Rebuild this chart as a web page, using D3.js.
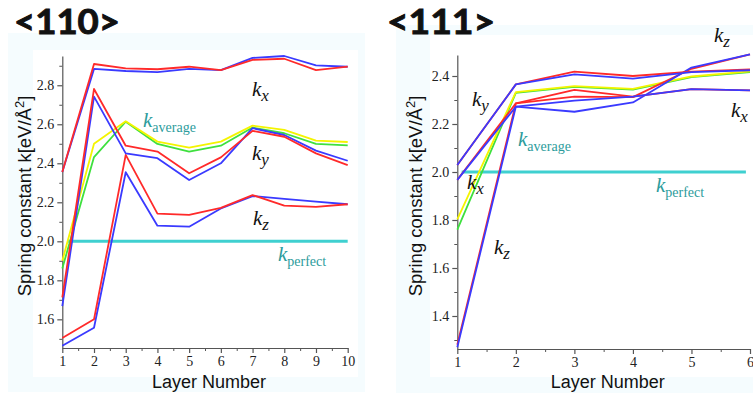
<!DOCTYPE html>
<html>
<head>
<meta charset="utf-8">
<script src="https://cdn.jsdelivr.net/npm/d3@7"></script>
<style>
  html, body { margin: 0; padding: 0; background: #ffffff; }
  svg { display: block; }
</style>
</head>
<body>
<svg id="chart" width="753" height="396"></svg>
<script>
// ---- <110> surface: spring constants per layer ----
const layers110 = [1, 2, 3, 4, 5, 6, 7, 8, 9, 10];
const kx110Red   = [2.355, 2.909, 2.887, 2.882, 2.895, 2.878, 2.930, 2.936, 2.878, 2.895];
const kx110Blue  = [2.355, 2.884, 2.873, 2.867, 2.884, 2.878, 2.940, 2.950, 2.902, 2.895];
const ky110Red   = [1.713, 2.781, 2.490, 2.460, 2.349, 2.430, 2.566, 2.536, 2.451, 2.391];
const ky110Blue  = [1.668, 2.742, 2.451, 2.426, 2.314, 2.400, 2.580, 2.545, 2.465, 2.413];
const kz110Red   = [1.504, 1.600, 2.443, 2.142, 2.135, 2.171, 2.237, 2.183, 2.177, 2.190];
const kz110Blue  = [1.465, 1.557, 2.354, 2.080, 2.075, 2.168, 2.232, 2.217, 2.203, 2.190];
const kAvg110Yellow = [1.900, 2.500, 2.615, 2.511, 2.480, 2.511, 2.593, 2.571, 2.516, 2.509];
const kAvg110Green  = [1.861, 2.432, 2.613, 2.499, 2.460, 2.490, 2.583, 2.554, 2.500, 2.492];
const perfect110Layers = [1.18, 10];
const perfect110Values = [2.0, 2.0];
const yTicks110 = [1.6, 1.8, 2.0, 2.2, 2.4, 2.6, 2.8];
const yMinor110 = [1.5, 1.7, 1.9, 2.1, 2.3, 2.5, 2.7, 2.9];
const xTicks110 = [1, 2, 3, 4, 5, 6, 7, 8, 9, 10];
const xMinor110 = [1.5, 2.5, 3.5, 4.5, 5.5, 6.5, 7.5, 8.5, 9.5];

// ---- <111> surface ----
const layers111 = [1, 2, 3, 4, 5, 6];
const kx111Red   = [1.967, 2.286, 2.342, 2.314, 2.345, 2.340];
const kx111Blue  = [1.967, 2.272, 2.297, 2.314, 2.345, 2.340];
const ky111Red   = [2.029, 2.365, 2.418, 2.400, 2.418, 2.428];
const ky111Blue  = [2.029, 2.365, 2.407, 2.389, 2.416, 2.424];
const kz111Red   = [1.280, 2.286, 2.314, 2.312, 2.430, 2.490];
const kz111Blue  = [1.270, 2.272, 2.251, 2.290, 2.435, 2.490];
const kAvg111Yellow = [1.803, 2.333, 2.358, 2.346, 2.398, 2.419];
const kAvg111Green  = [1.760, 2.330, 2.355, 2.343, 2.395, 2.416];
const perfect111Layers = [1.075, 5.93];
const perfect111Values = [2.0, 2.0];
const yTicks111 = [1.4, 1.6, 1.8, 2.0, 2.2, 2.4];
const yMinor111 = [1.3, 1.5, 1.7, 1.9, 2.1, 2.3];
const xTicks111 = [1, 2, 3, 4, 5, 6];
const xMinor111 = [1.5, 2.5, 3.5, 4.5, 5.5];

const RED = "#ff2a2a", BLUE = "#3a3aff", YELLOW = "#f4f400", GREEN = "#3ee03e", CYAN = "#3fd0d0";
const TEAL = "#2c9c9c";

const svg = d3.select("#chart");

function drawPanel(cfg) {
  const g = svg.append("g");

  // pale panel backdrop
  g.append("rect").attr("x", cfg.bg[0]).attr("y", cfg.bg[1])
    .attr("width", cfg.bg[2]).attr("height", cfg.bg[3]).attr("fill", "#f5fcfe");
  g.append("rect").attr("x", cfg.inner[0]).attr("y", cfg.inner[1])
    .attr("width", cfg.inner[2]).attr("height", cfg.inner[3]).attr("fill", "#ffffff");

  // heading
  g.append("text").attr("x", cfg.title.x).attr("y", cfg.title.y)
    .attr("font-family", "Lato, 'DejaVu Sans', sans-serif").attr("font-weight", 700)
    .attr("font-size", 34).attr("fill", "#111").attr("stroke", "#111").attr("stroke-width", 0.9)
    .attr("textLength", cfg.title.len).attr("lengthAdjust", "spacingAndGlyphs")
    .text(cfg.title.text);

  const x = d3.scaleLinear().domain(cfg.xDomain).range(cfg.xRange);
  const y = d3.scaleLinear().domain(cfg.yDomain).range(cfg.yRange);
  const x0 = cfg.xRange[0], yBase = cfg.yRange[0];

  // minor ticks
  g.append("g").attr("transform", `translate(${x0},0)`)
    .call(d3.axisLeft(y).tickValues(cfg.yMinor).tickSize(3).tickFormat(""))
    .call(a => a.select(".domain").remove());
  g.append("g").attr("transform", `translate(0,${yBase})`)
    .call(d3.axisBottom(x).tickValues(cfg.xMinor).tickSize(3).tickFormat(""))
    .call(a => a.select(".domain").remove());

  // major axes
  const yAx = g.append("g").attr("transform", `translate(${x0},0)`)
    .call(d3.axisLeft(y).tickValues(cfg.yTicks).tickSize(5).tickSizeOuter(0).tickPadding(3)
      .tickFormat(d3.format(".1f")));
  const xAx = g.append("g").attr("transform", `translate(0,${yBase})`)
    .call(d3.axisBottom(x).tickValues(cfg.xTicks).tickSize(5).tickSizeOuter(0).tickPadding(3)
      .tickFormat(d3.format("d")));
  [yAx, xAx].forEach(a => {
    a.selectAll("path, line").attr("stroke", "#555").attr("stroke-width", 1.2);
    a.selectAll("text").attr("font-family", "'Liberation Serif', 'DejaVu Serif', serif")
      .attr("font-size", 14).attr("fill", "#222");
  });
  g.selectAll("line").attr("stroke", "#555");

  // axis titles
  g.append("text").attr("x", (cfg.xRange[0] + cfg.xRange[1]) / 2 + 4).attr("y", 388)
    .attr("text-anchor", "middle").attr("font-family", "'Liberation Sans', Arial, sans-serif")
    .attr("font-size", 18).attr("fill", "#111").text("Layer Number");
  const yt = g.append("text")
    .attr("transform", `translate(${cfg.yLabelX},196) rotate(-90)`)
    .attr("text-anchor", "middle").attr("font-family", "'Liberation Sans', Arial, sans-serif")
    .attr("font-size", 18.5).attr("fill", "#111");
  yt.append("tspan").text("Spring constant k[eV/Å");
  yt.append("tspan").attr("font-size", 13).attr("dy", -7).text("2");
  yt.append("tspan").attr("dy", 7).text("]");

  // reference level
  const perfectLine = d3.line().x(d => x(d[0])).y(d => y(d[1]));
  g.append("path")
    .attr("d", perfectLine(d3.zip(cfg.perfect[0], cfg.perfect[1])))
    .attr("fill", "none").attr("stroke", CYAN).attr("stroke-width", 3);

  // series
  const line = d3.line().x((d, i) => x(cfg.layers[i])).y(d => y(d));
  cfg.series.forEach(s => {
    g.append("path").attr("d", line(s.values))
      .attr("fill", "none").attr("stroke", s.color).attr("stroke-width", 1.8)
      .attr("stroke-linejoin", "round");
  });

  // in-plot labels
  cfg.labels.forEach(l => {
    const t = g.append("text").attr("x", l.x).attr("y", l.y)
      .attr("font-family", "'Liberation Serif', 'DejaVu Serif', serif")
      .attr("fill", l.color || "#111");
    t.append("tspan").attr("font-style", "italic").attr("font-size", 21).text("k");
    t.append("tspan").attr("font-style", l.italicSub ? "italic" : "normal")
      .attr("font-size", l.italicSub ? 17 : 14).attr("dy", 5).text(l.sub);
  });
}

drawPanel({
  bg: [8, 33, 357, 359], inner: [33, 50, 325, 327],
  title: { text: "<110>", x: 14, y: 34, len: 106 },
  xDomain: [1, 10], xRange: [62.3, 347.7],
  yDomain: [1.453, 2.95], yRange: [348, 56],
  xTicks: xTicks110, xMinor: xMinor110, yTicks: yTicks110, yMinor: yMinor110,
  yLabelX: 31,
  layers: layers110,
  perfect: [perfect110Layers, perfect110Values],
  series: [
    { values: kAvg110Green, color: GREEN },
    { values: kAvg110Yellow, color: YELLOW },
    { values: kz110Blue, color: BLUE },
    { values: kz110Red, color: RED },
    { values: ky110Blue, color: BLUE },
    { values: ky110Red, color: RED },
    { values: kx110Blue, color: BLUE },
    { values: kx110Red, color: RED }
  ],
  labels: [
    { x: 252, y: 96, sub: "x", italicSub: true },
    { x: 252, y: 160, sub: "y", italicSub: true },
    { x: 253, y: 225, sub: "z", italicSub: true },
    { x: 143, y: 127, sub: "average", color: TEAL },
    { x: 278, y: 261, sub: "perfect", color: TEAL }
  ]
});

drawPanel({
  bg: [396, 25, 357, 368], inner: [430, 35, 323, 342],
  title: { text: "<111>", x: 387, y: 34, len: 108 },
  xDomain: [1, 6], xRange: [457.3, 750],
  yDomain: [1.2625, 2.4875], yRange: [349, 55],
  xTicks: xTicks111, xMinor: xMinor111, yTicks: yTicks111, yMinor: yMinor111,
  yLabelX: 422,
  layers: layers111,
  perfect: [perfect111Layers, perfect111Values],
  series: [
    { values: kAvg111Green, color: GREEN },
    { values: kAvg111Yellow, color: YELLOW },
    { values: kz111Red, color: RED },
    { values: kz111Blue, color: BLUE },
    { values: kx111Red, color: RED },
    { values: kx111Blue, color: BLUE },
    { values: ky111Red, color: RED },
    { values: ky111Blue, color: BLUE }
  ],
  labels: [
    { x: 714, y: 42, sub: "z", italicSub: true },
    { x: 472, y: 106, sub: "y", italicSub: true },
    { x: 731, y: 117, sub: "x", italicSub: true },
    { x: 518, y: 146, sub: "average", color: TEAL },
    { x: 467, y: 189, sub: "x", italicSub: true },
    { x: 656, y: 192, sub: "perfect", color: TEAL },
    { x: 494, y: 254, sub: "z", italicSub: true }
  ]
});
</script>
</body>
</html>
